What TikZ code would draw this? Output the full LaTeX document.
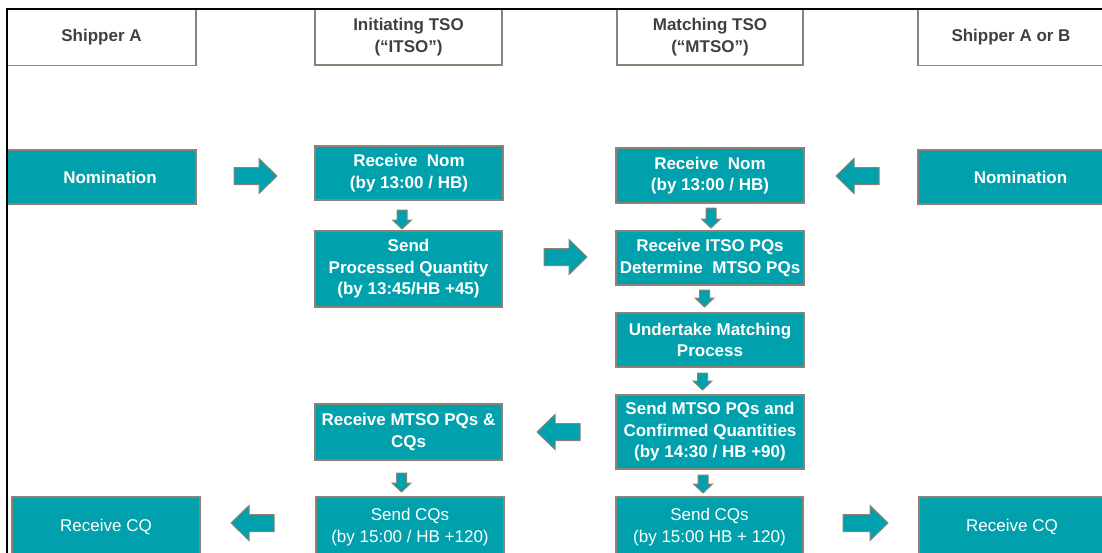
\documentclass[tikz,border=0pt]{standalone}
\usepackage{fontspec}
\setmainfont{Liberation Sans}
\definecolor{tealbox}{RGB}{0,160,172}
\definecolor{bordcol}{RGB}{140,130,118}
\definecolor{hdtext}{RGB}{64,64,64}
% right block arrow: x tail, x tip, y centre
\newcommand{\RArrow}[3]{\draw[barrow] (#1,#3-8.5) -- (#2-18,#3-8.5) -- (#2-18,#3-17.5) -- (#2,#3) -- (#2-18,#3+17.5) -- (#2-18,#3+8.5) -- (#1,#3+8.5) -- cycle;}
% left block arrow: x tip, x tail, y centre
\newcommand{\LArrow}[3]{\draw[barrow] (#2,#3-8.5) -- (#1+18,#3-8.5) -- (#1+18,#3-17.5) -- (#1,#3) -- (#1+18,#3+17.5) -- (#1+18,#3+8.5) -- (#2,#3+8.5) -- cycle;}
% down block arrow: x centre, y top, y tip
\newcommand{\DArrow}[3]{\draw[barrow] (#1-5,#2) -- (#1-5,#3-9) -- (#1-9.5,#3-9) -- (#1,#3) -- (#1+9.5,#3-9) -- (#1+5,#3-9) -- (#1+5,#2) -- cycle;}
\begin{document}
\begin{tikzpicture}[x=1pt,y=-1pt,
  base/.style={draw=bordcol,line width=1.3pt,align=center,inner sep=0pt,
    font=\fontsize{17}{21.5}\selectfont\bfseries},
  hdr/.style={base,fill=white,text=hdtext},
  tbox/.style={base,fill=tealbox,text=white},
  tboxr/.style={tbox,font=\fontsize{17}{21.5}\selectfont},
  barrow/.style={draw=bordcol,line width=1pt,fill=tealbox}]
\useasboundingbox[fill=white] (0,0) rectangle (1102,552);

% headers
\node[hdr,minimum width=189,minimum height=56] (hA) at (101.5,37.5) {Shipper A};
\node[hdr,minimum width=187,minimum height=56] (hI) at (408.5,37) {Initiating TSO\\(“ITSO”)};
\node[hdr,minimum width=186,minimum height=56] (hM) at (710,37) {Matching TSO\\(“MTSO”)};
\node[hdr,minimum width=186,minimum height=56] (hB) at (1011,37.5) {Shipper A or B};

% row 1
\node[tbox,minimum width=189,minimum height=54] (nomA) at (101.5,177) {\hspace*{17pt}Nomination};
\node[tbox,minimum width=188,minimum height=54] (iNom) at (409,173) {Receive~~Nom\\(by 13:00 / HB)};
\node[tbox,minimum width=188,minimum height=55] (mNom) at (710,175.5) {Receive~~Nom\\(by 13:00 / HB)};
\node[tbox,minimum width=186,minimum height=54] (nomB) at (1011,177) {\hspace*{19pt}Nomination};

% ITSO column
\node[tbox,minimum width=187,minimum height=76] (iSend) at (408.5,269) {Send\\Processed Quantity\\(by 13:45/HB +45)};
\node[tbox,minimum width=187,minimum height=56] (iRecv) at (408.5,432) {Receive MTSO PQs \&\\CQs};

% MTSO column
\node[tbox,minimum width=188,minimum height=54] (mRecv) at (710,258) {Receive ITSO PQs\\Determine~~MTSO PQs};
\node[tbox,minimum width=188,minimum height=54] (mUnd) at (710,340) {Undertake Matching\\Process};
\node[tbox,minimum width=188,minimum height=74] (mSend) at (710,432) {Send MTSO PQs and\\Confirmed Quantities\\(by 14:30 / HB +90)};

% bottom row
\node[tboxr,minimum width=188,minimum height=60] (cqA) at (106,527) {Receive CQ};
\node[tboxr,minimum width=188,minimum height=60] (iCQ) at (410,527) {Send CQs\\(by 15:00 / HB +120)};
\node[tboxr,minimum width=187,minimum height=60] (mCQ) at (709.5,527) {Send CQs\\(by 15:00 HB + 120)};
\node[tboxr,minimum width=186,minimum height=60] (cqB) at (1012,527) {Receive CQ};

% block arrows
\RArrow{234}{277}{176}
\RArrow{544}{587}{257}
\RArrow{843}{888}{523}
\LArrow{836}{879}{176}
\LArrow{537}{580}{432}
\LArrow{231}{274}{523}
\DArrow{402}{210}{229}
\DArrow{711}{208}{228}
\DArrow{704.5}{290}{307}
\DArrow{702.5}{373}{390}
\DArrow{401.5}{473}{492}
\DArrow{703}{475}{493}

% frame
\draw[line width=2.2pt,black] (7,560) -- (7,9) -- (1110,9);
\end{tikzpicture}
\end{document}
